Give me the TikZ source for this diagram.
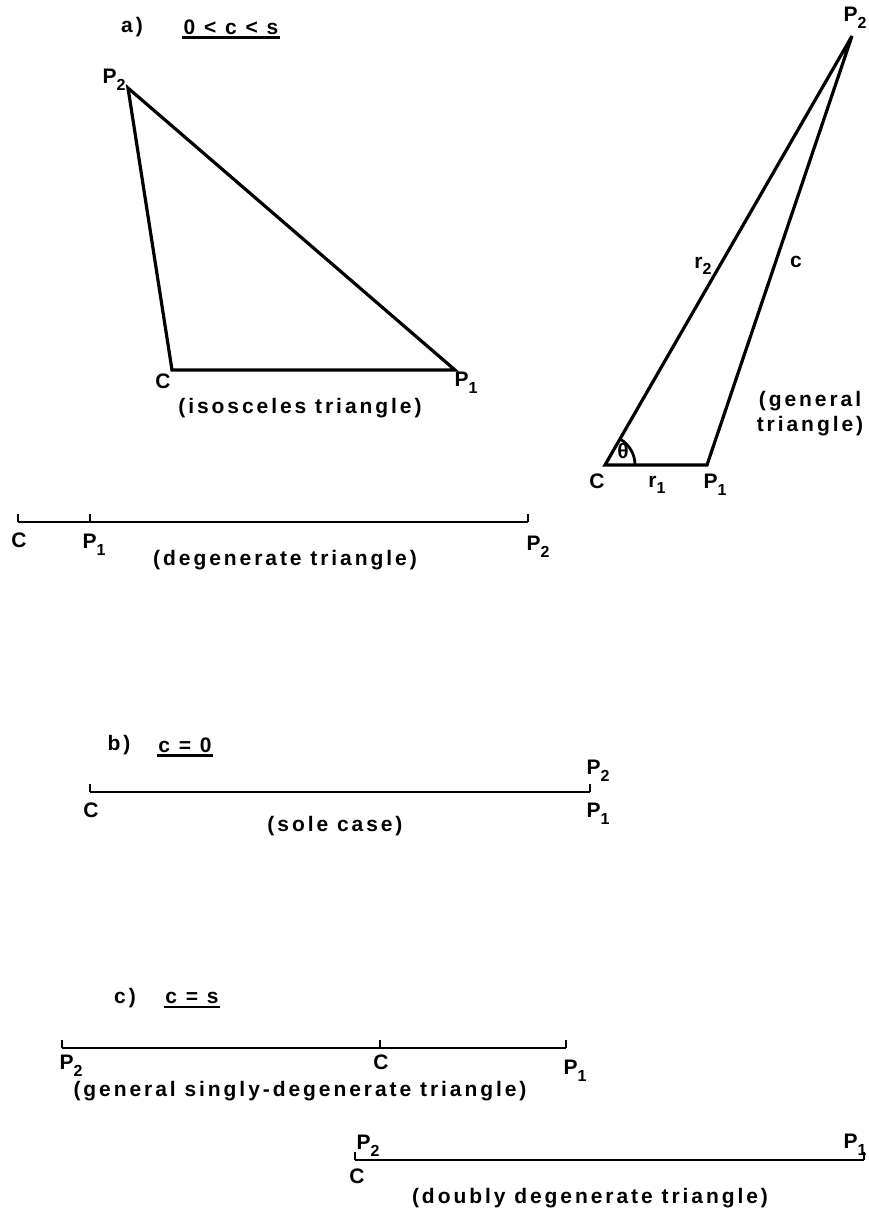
\documentclass[tikz,border=0pt]{standalone}
\usepackage{fontspec}
\setmainfont{Liberation Sans}[LetterSpace=14]
\newcommand{\lsub}[1]{\raisebox{-0.6ex}{\fontsize{16}{16}\selectfont #1}}
\begin{document}
\begin{tikzpicture}[x=1pt,y=-1pt,
		lbl/.style={
			inner sep=1pt,
			font=\fontsize{21}{25}\selectfont\bfseries
		},
		ttl/.style={
			inner sep=1pt,
			font=\fontsize{21}{25}\selectfont\bfseries
		},
		edge/.style={line width=3.2pt, line join=miter},
		seg/.style={line width=2.8pt},
		uline/.style={line width=2.4pt}
		]
		\useasboundingbox (0,0) rectangle (869,1221);
		
		% a) 0 < c < s
		\node[ttl] (ta) at (132,27) {a)};
		\node[ttl] (ca) at (231,27) {0 < c < s};
		\draw[uline] ([yshift=-2pt]ca.south west) -- ([yshift=-2pt]ca.south east);
		
		% Isosceles triangle
		\coordinate (P2i) at (128,88);
		\coordinate (Ci) at (172,370);
		\coordinate (P1i) at (455,370);
		\draw[edge] (P2i) -- (Ci) -- (P1i) -- cycle;
		\node[lbl] (lP2i) at (114,80) {P\lsub{2}};
		\node[lbl] (lCi) at (163,381) {C};
		\node[lbl] (lP1i) at (466,383) {P\lsub{1}};
		\node[lbl] (iso) at (300,408) {(isosceles triangle)};
		
		% General triangle
		\coordinate (Cg) at (605,465);
		\coordinate (P1g) at (707,465);
		\coordinate (P2g) at (852,36);
		\draw[edge] (Cg) -- (P1g) -- (P2g) -- cycle;
		\draw[seg] (Cg) ++(30pt,0pt) arc[start angle=0, end angle=59, radius=30pt];
		\node[lbl] (th) at (623,451) {θ};
		\node[lbl] (lCg) at (597,481) {C};
		\node[lbl] (r1) at (657,485) {r\lsub{1}};
		\node[lbl] (lP1g) at (715,485) {P\lsub{1}};
		\node[lbl] (lP2g) at (855,18) {P\lsub{2}};
		\node[lbl] (r2) at (703,266) {r\lsub{2}};
		\node[lbl] (cg) at (796,262) {c};
		\node[lbl, align=center] (gen) at (810,414) {(general\\triangle)};
		
		% Degenerate triangle
		\coordinate (Cd) at (18,522);
		\coordinate (P1d) at (90,522);
		\coordinate (P2d) at (528,522);
		\draw[seg] (Cd) -- (P2d);
		\draw[seg] (Cd) -- ++(0,-8);
		\draw[seg] (P1d) -- ++(0,-8);
		\draw[seg] (P2d) -- ++(0,-8);
		\node[lbl] (lCd) at (19,540) {C};
		\node[lbl] (lP1d) at (94,545) {P\lsub{1}};
		\node[lbl] (lP2d) at (538,547) {P\lsub{2}};
		\node[lbl] (deg) at (285,560) {(degenerate triangle)};
		
		% b) c = 0
		\node[ttl] (tb) at (119,745) {b)};
		\node[ttl] (cb) at (185,745) {c = 0};
		\draw[uline] ([yshift=-2pt]cb.south west) -- ([yshift=-2pt]cb.south east);
		\coordinate (Cb) at (90,792);
		\coordinate (Pb) at (590,792);
		\draw[seg] (Cb) -- (Pb);
		\draw[seg] (Cb) -- ++(0,-8);
		\draw[seg] (Pb) -- ++(0,-8);
		\node[lbl] (lCb) at (91,810) {C};
		\node[lbl] (lP2b) at (598,771) {P\lsub{2}};
		\node[lbl] (lP1b) at (598,814) {P\lsub{1}};
		\node[lbl] (sole) at (335,826) {(sole case)};
		
		% c) c = s
		\node[ttl] (tc) at (125,998) {c)};
		\node[ttl] (cc) at (192,998) {c = s};
		\draw[uline] ([yshift=-2pt]cc.south west) -- ([yshift=-2pt]cc.south east);
		\coordinate (P2s) at (62,1048);
		\coordinate (Cs) at (380,1048);
		\coordinate (P1s) at (566,1048);
		\draw[seg] (P2s) -- (P1s);
		\draw[seg] (P2s) -- ++(0,-8);
		\draw[seg] (Cs) -- ++(0,-8);
		\draw[seg] (P1s) -- ++(0,-8);
		\node[lbl] (lP2s) at (71,1066) {P\lsub{2}};
		\node[lbl] (lCs) at (381,1062) {C};
		\node[lbl] (lP1s) at (575,1071) {P\lsub{1}};
		\node[lbl] (sing) at (300,1091) {(general singly-degenerate triangle)};
		
		% Doubly degenerate triangle
		\coordinate (Cw) at (355,1160);
		\coordinate (P1w) at (864,1160);
		\draw[seg] (Cw) -- (P1w);
		\draw[seg] (Cw) -- ++(0,-8);
		\draw[seg] (P1w) -- ++(0,-8);
		\node[lbl] (lP2w) at (368,1146) {P\lsub{2}};
		\node[lbl] (lCw) at (357,1176) {C};
		\node[lbl] (lP1w) at (855,1145) {P\lsub{1}};
		\node[lbl] (dbl) at (590,1198) {(doubly degenerate triangle)};
		
	\end{tikzpicture}
\end{document}
